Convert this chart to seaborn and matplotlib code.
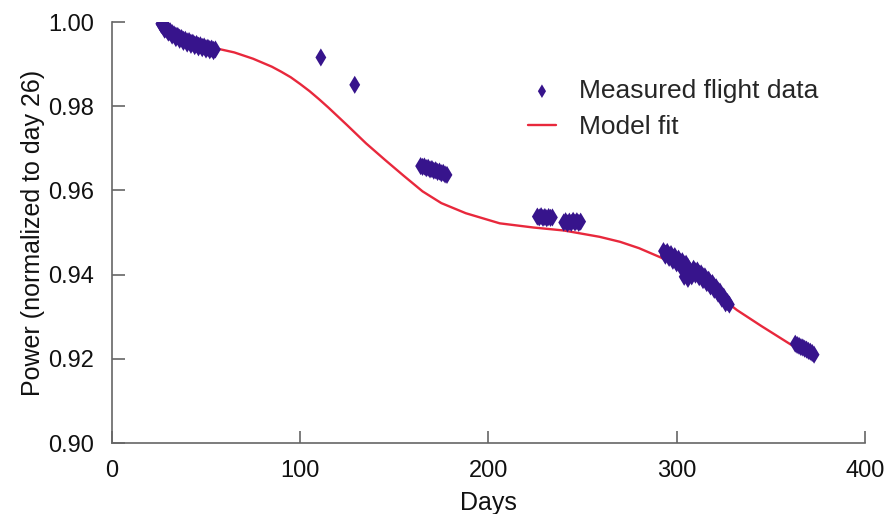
import pandas as pd
import seaborn as sns
from matplotlib import pyplot as plt

dias_1 = [26, 26.5, 27, 27.5, 28, 28.5, 29, 29.5, 30, 30.5, 31, 32, 33, 34, 35, 36, 37, 38, 39, 40,
          41, 42, 43, 44, 45, 46, 47, 48, 49, 50, 51, 52, 53, 54, 55]
pot_1 = [0.9996, 0.9993, 0.9992, 0.9988, 0.9989, 0.9984, 0.9985, 0.9980, 0.9981, 0.9977, 0.9978, 0.9974,
         0.9971, 0.9968, 0.9967, 0.9963, 0.9962, 0.9958, 0.9958, 0.9954, 0.9955, 0.9951, 0.9951, 0.9947,
         0.9948, 0.9944, 0.9945, 0.9941, 0.9942, 0.9938, 0.9939, 0.9936, 0.9937, 0.9934, 0.9935]
# lower edge of the first group
dias_1b = [28, 30, 32, 34, 36, 38, 40, 42, 44, 46, 48, 50, 52, 54]
pot_1b = [0.9982, 0.9975, 0.9968, 0.9962, 0.9958, 0.9953, 0.9949, 0.9946, 0.9943, 0.9940, 0.9938,
          0.9935, 0.9933, 0.9931]
dias_2 = [111, 129]
pot_2 = [0.9916, 0.9851]
dias_3 = [164, 165, 166, 167, 168, 169, 170, 171, 172, 173, 174, 175, 176, 177, 178]
pot_3 = [0.9658, 0.9656, 0.9657, 0.9653, 0.9654, 0.9650, 0.9651, 0.9647, 0.9648, 0.9644, 0.9645, 0.9641,
         0.9642, 0.9638, 0.9637]
dias_4 = [226, 227, 228, 229, 230, 231, 232, 233, 234, 240, 241, 242, 243, 244, 245, 246, 247, 248, 249]
pot_4 = [0.9538, 0.9536, 0.9539, 0.9535, 0.9537, 0.9534, 0.9537, 0.9535, 0.9536, 0.9524, 0.9527, 0.9522,
         0.9526, 0.9523, 0.9528, 0.9524, 0.9527, 0.9523, 0.9526]
dias_5 = [293, 294, 295, 296, 297, 298, 299, 300, 301, 302, 303, 304, 305, 306, 307, 304, 306, 308,
          309, 310, 311, 312, 313, 314, 315, 316, 317, 318, 319, 320, 321, 322, 323, 324, 325, 326, 327, 328]
pot_5 = [0.9456, 0.9450, 0.9454, 0.9446, 0.9449, 0.9441, 0.9444, 0.9436, 0.9438, 0.9430, 0.9432, 0.9424,
         0.9426, 0.9418, 0.9410, 0.9395, 0.9390, 0.9396, 0.9414, 0.9408, 0.9410, 0.9402, 0.9403, 0.9396,
         0.9396, 0.9388, 0.9388, 0.9380, 0.9380, 0.9372, 0.9370, 0.9362, 0.9360, 0.9350, 0.9348, 0.9338,
         0.9335, 0.9329]
# lower edge of the fourth group
dias_5b = [294, 296, 298, 300, 302, 304, 310, 312, 314, 316, 318, 320, 322, 324, 326]
pot_5b = [0.9445, 0.9440, 0.9433, 0.9427, 0.9420, 0.9412, 0.9400, 0.9394, 0.9387, 0.9380, 0.9372,
          0.9364, 0.9355, 0.9343, 0.9332]
dias_6 = [363, 364, 365, 366, 367, 368, 369, 370, 371, 372, 373]
pot_6 = [0.9236, 0.9233, 0.9231, 0.9228, 0.9227, 0.9224, 0.9222, 0.9219, 0.9217, 0.9214, 0.9210]

# model fit curve
dias_modelo = [55, 65, 75, 85, 90, 95, 100, 105, 110, 115, 125, 135, 145, 155, 165, 175, 188, 206,
               224, 240, 259, 270, 280, 292, 305, 318, 332, 345, 361, 372]
pot_modelo = [0.9938, 0.9928, 0.9913, 0.9894, 0.9882, 0.9869, 0.9853, 0.9836, 0.9817, 0.9797, 0.9755,
              0.9712, 0.9673, 0.9635, 0.9598, 0.9570, 0.9546, 0.9522, 0.9512, 0.9505, 0.9490, 0.9478,
              0.9463, 0.9440, 0.9405, 0.9365, 0.9316, 0.9278, 0.9233, 0.9210]

medidos = pd.DataFrame({
    'dias': dias_1 + dias_1b + dias_2 + dias_3 + dias_4 + dias_5 + dias_5b + dias_6,
    'potencia': pot_1 + pot_1b + pot_2 + pot_3 + pot_4 + pot_5 + pot_5b + pot_6,
})
modelo = pd.DataFrame({'dias': dias_modelo, 'potencia': pot_modelo})

sns.set_style('ticks')
plt.rcParams['font.family'] = ['Liberation Sans', 'DejaVu Sans']

fig = plt.figure(figsize=(8.88, 5.14), dpi=100)
ax = fig.add_axes([0.126, 0.138, 0.848, 0.819])

sns.lineplot(x='dias', y='potencia', data=modelo, color='#e8283c', linewidth=1.7,
             sort=False, estimator=None, ax=ax, zorder=2, label='Model fit')
sns.scatterplot(x='dias', y='potencia', data=medidos, marker='d', s=85, color='#37148c',
                edgecolor='none', ax=ax, zorder=3, label='Measured flight data')

ax.set_xlim(0, 400)
ax.set_ylim(0.90, 1.00)
ax.set_xticks([0, 100, 200, 300, 400])
ax.set_yticks([0.90, 0.92, 0.94, 0.96, 0.98, 1.00])
ax.set_yticklabels(['0.90', '0.92', '0.94', '0.96', '0.98', '1.00'])
ax.tick_params(direction='in', length=9, width=1.2, color='#666666', labelsize=17,
               labelcolor='#111111')
ax.tick_params(axis='x', pad=12)
ax.tick_params(axis='y', pad=13)
for lado in ['top', 'right']:
    ax.spines[lado].set_visible(False)
for lado in ['left', 'bottom']:
    ax.spines[lado].set_color('#666666')
    ax.spines[lado].set_linewidth(1.2)

ax.set_xlabel('Days', fontsize=18, color='#111111', labelpad=7)
ax.set_ylabel('Power (normalized to day 26)', fontsize=18, color='#111111', labelpad=2)

h, l = ax.get_legend_handles_labels()
ax.legend([h[1], h[0]], [l[1], l[0]], loc='upper left', bbox_to_anchor=(0.521, 0.921),
          frameon=False, fontsize=19, handlelength=1.06, handletextpad=0.87, labelspacing=0.45,
          borderpad=0.4, markerscale=0.75)

fig.savefig('out.png', dpi=100)
